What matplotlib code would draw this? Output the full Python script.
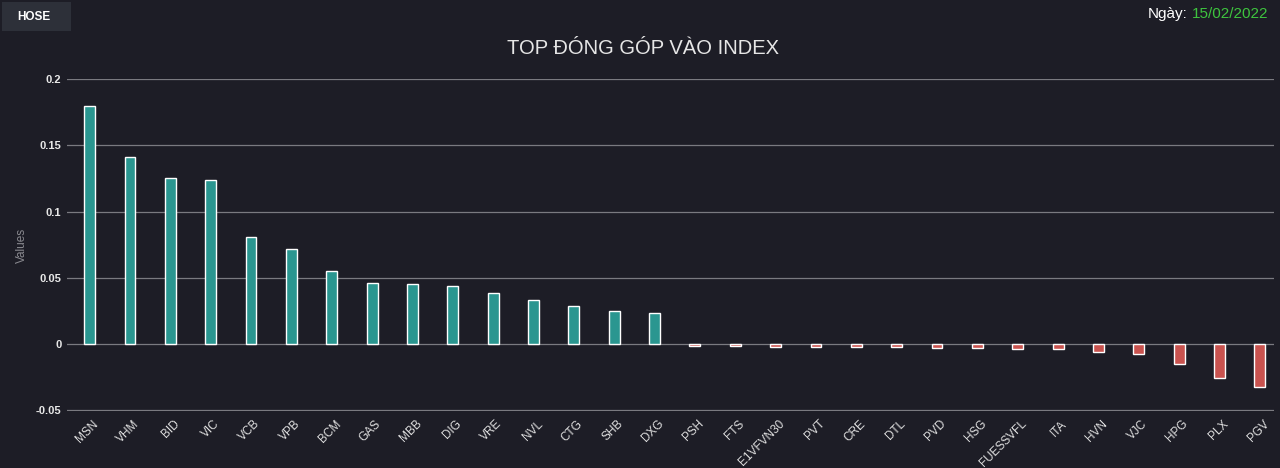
import matplotlib
matplotlib.use("Agg")
import matplotlib.pyplot as plt
from matplotlib.patches import Rectangle
from matplotlib.transforms import ScaledTranslation

plt.rcParams["font.family"] = ["Liberation Sans", "DejaVu Sans"]

tickers = ["MSN", "VHM", "BID", "VIC", "VCB", "VPB", "BCM", "GAS", "MBB", "DIG",
           "VRE", "NVL", "CTG", "SHB", "DXG", "PSH", "FTS", "E1VFVN30", "PVT", "CRE",
           "DTL", "PVD", "HSG", "FUESSVFL", "ITA", "HVN", "VJC", "HPG", "PLX", "PGV"]
values = [0.1796, 0.1411, 0.1253, 0.1238, 0.0808, 0.0717, 0.0551, 0.0460, 0.0453, 0.0438,
          0.0385, 0.0332, 0.0287, 0.0249, 0.0234, -0.0015, -0.0015, -0.0023, -0.0023, -0.0023,
          -0.0023, -0.0030, -0.0030, -0.0038, -0.0038, -0.0063, -0.0075, -0.0149, -0.0259, -0.0327]
yticks = [-0.05, 0, 0.05, 0.1, 0.15, 0.2]
ytick_labels = ["-0.05", "0", "0.05", "0.1", "0.15", "0.2"]

bg = "#1d1d26"
up, down = "#2a9690", "#c9534f"

fig = plt.figure(figsize=(12.8, 4.68), dpi=100, facecolor=bg)
ax = fig.add_axes([67 / 1280, 1 - 411 / 468, (1274 - 67) / 1280, (411 - 79) / 468])
ax.set_facecolor(bg)

x = range(len(tickers))
colors = [up if v >= 0 else down for v in values]
ax.bar(x, values, width=0.27, color=colors, edgecolor="white", linewidth=1.0, zorder=3)

ax.set_xlim(-0.56, len(tickers) - 0.65)
ax.set_ylim(-0.0505, 0.2)
ax.set_yticks(yticks)
ax.set_yticklabels(ytick_labels)
ax.yaxis.grid(True, color="#7a7a80", linewidth=0.9, zorder=0)
ax.set_xticks(list(x))
ax.set_xticklabels(tickers, rotation=45, ha="right", rotation_mode="anchor")
ax.tick_params(axis="x", colors="#e0e0e0", labelsize=8.5, length=0, pad=5)
ax.tick_params(axis="y", colors="#e8e8e8", labelsize=8, length=0, pad=4)
shift = ScaledTranslation(0.03, 0, fig.dpi_scale_trans)
for lab in ax.get_xticklabels():
    lab.set_transform(lab.get_transform() + shift)
for lab in ax.get_yticklabels():
    lab.set_fontweight("bold")
for s in ax.spines.values():
    s.set_visible(False)

fig.text(22 / 1280, 1 - 245 / 468, "Values", color="#8a8a90", fontsize=8.5,
         rotation=90, ha="center", va="center")

fig.text(643 / 1280, 1 - 49 / 468, "TOP ĐÓNG GÓP VÀO INDEX", color="#e6e6e6",
         fontsize=14.5, ha="center", va="center")

fig.patches.append(Rectangle((2 / 1280, 1 - 31 / 468), 69 / 1280, 29 / 468,
                             transform=fig.transFigure, facecolor="#2d3039", edgecolor="none"))
fig.text(34 / 1280, 1 - 17 / 468, "HOSE", color="white", fontsize=8.5, fontweight="bold",
         ha="center", va="center")

date = fig.text(1268 / 1280, 1 - 14 / 468, "15/02/2022", color="#3ec43e", fontsize=11,
                ha="right", va="center")
fig.canvas.draw()
bb = date.get_window_extent(fig.canvas.get_renderer())
fig.text((bb.x0 - 4) / 1280, 1 - 14 / 468, "Ngày:", color="white", fontsize=11,
         ha="right", va="center")

fig.savefig("out.png", dpi=100, facecolor=bg)
